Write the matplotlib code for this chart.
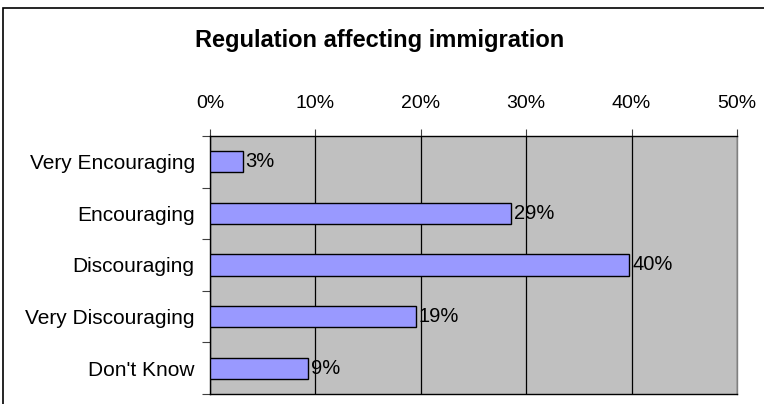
import matplotlib
matplotlib.use("Agg")
import matplotlib.pyplot as plt
from matplotlib.patches import Rectangle
from matplotlib.ticker import FixedLocator, PercentFormatter

plt.rcParams['font.family'] = ['Liberation Sans', 'DejaVu Sans']

# data
categories = ["Very Encouraging", "Encouraging", "Discouraging",
              "Very Discouraging", "Don't Know"]
shares = [3.1, 28.6, 39.8, 19.5, 9.3]
bar_labels = ["3%", "29%", "40%", "19%", "9%"]
x_ticks = [0, 10, 20, 30, 40, 50]

fig = plt.figure(figsize=(7.64, 4.04), dpi=100)
W, H = 764, 404

# outer chart frame (only left/top visible in the crop)
fig.patches.append(Rectangle((3 / W, -0.1), 1.2, (H - 8) / H + 0.1,
                             transform=fig.transFigure, fill=False,
                             edgecolor="black", linewidth=1.2))

ax = fig.add_axes([210 / W, 10 / H, 527 / W, 258 / H])
ax.set_facecolor("#C0C0C0")

ypos = list(range(len(categories)))
ax.barh(ypos, shares, height=0.41, color="#9999FF",
        edgecolor="black", linewidth=1.0, zorder=3)

for y, v, lab in zip(ypos, shares, bar_labels):
    ax.annotate(lab, (v, y), xytext=(2, 0), textcoords="offset points",
                va="center", ha="left", fontsize=14.5, zorder=4)

ax.set_xlim(0, 50)
ax.set_ylim(len(categories) - 0.5, -0.5)

ax.xaxis.tick_top()
ax.set_xticks(x_ticks)
ax.xaxis.set_major_formatter(PercentFormatter(decimals=0))
ax.tick_params(axis="x", direction="out", length=5, width=0.8,
               labelsize=14, pad=12, color="#404040")
ax.grid(axis="x", color="black", linewidth=0.9, zorder=1)

ax.set_yticks(ypos)
ax.set_yticklabels(categories)
ax.yaxis.set_minor_locator(FixedLocator([i + 0.5 for i in range(-1, len(categories))]))
ax.tick_params(axis="y", which="major", length=0, labelsize=15, pad=11)
ax.tick_params(axis="y", which="minor", length=6, width=0.8, color="#404040")

for s in ax.spines.values():
    s.set_color("black")
    s.set_linewidth(1.0)
ax.spines["right"].set_color("#808080")

fig.text(380 / W, 1 - 40 / H, "Regulation affecting immigration",
         ha="center", va="center", fontsize=17, fontweight="bold")

fig.savefig("out.png", dpi=100)
